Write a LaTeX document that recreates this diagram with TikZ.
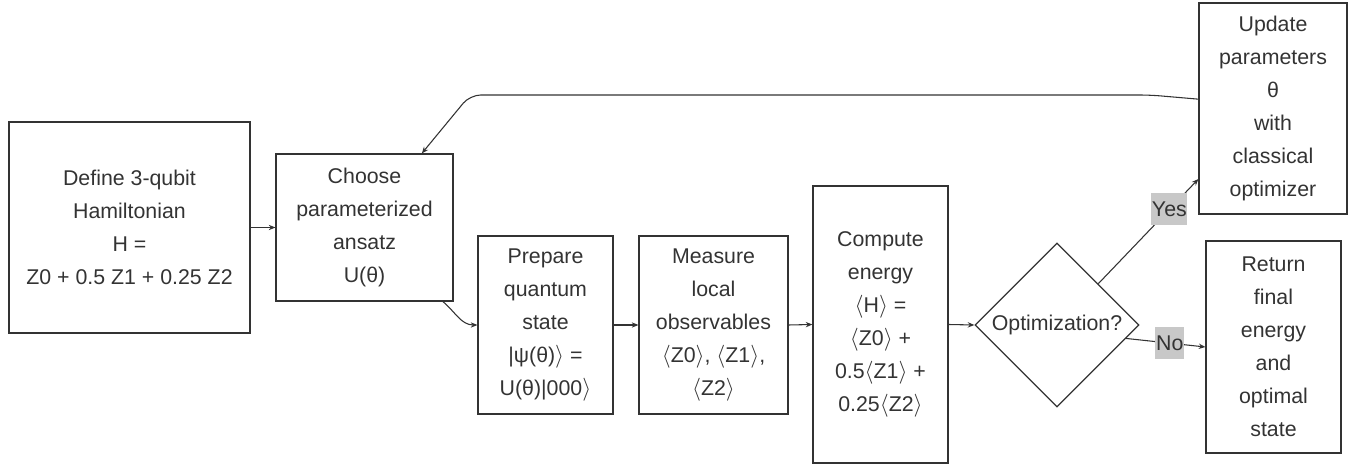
\documentclass[tikz,border=0pt]{standalone}
\usepackage{fontspec}
\setmainfont{Liberation Sans}
\usetikzlibrary{shapes.geometric,arrows.meta}
\newcommand\myl{\ensuremath{\langle}}
\newcommand\myr{\ensuremath{\rangle}}
\definecolor{ink}{HTML}{333333}
\definecolor{lab}{HTML}{C8C8C8}
\begin{document}
\begin{tikzpicture}[x=0.75pt,y=-0.75pt,
  box/.style={draw=ink,line width=0.9pt,text=ink,align=center,inner sep=0pt,
    font={\fontsize{16}{24.75}\selectfont}},
  dec/.style={diamond,aspect=1,draw=ink,line width=0.9pt,text=ink,inner sep=0pt,
    minimum width=123pt,minimum height=123pt,font={\fontsize{16}{24.75}\selectfont}},
  arr/.style={draw=ink,line width=0.8pt,-{Stealth[length=5pt,width=4pt]}},
  lbl/.style={fill=lab,text=ink,inner xsep=0.5pt,inner ysep=0pt,minimum height=24pt,
    font={\fontsize{16}{19}\selectfont}}]
\useasboundingbox (0,0) rectangle (1352,466);
\node[box,minimum width=180.75pt,minimum height=158.25pt] (A) at (129.5,227.5)
  {Define 3-qubit\\Hamiltonian\\H =\\Z0 + 0.5 Z1 + 0.25 Z2};
\node[box,minimum width=132.75pt,minimum height=110.25pt] (B) at (364.5,227.5)
  {Choose\\parameterized\\ansatz\\U(θ)};
\node[box,minimum width=101.25pt,minimum height=133.5pt] (C) at (545.5,325)
  {Prepare\\quantum\\state\\|ψ(θ)\myr{} =\\U(θ)|000\myr};
\node[box,minimum width=111.75pt,minimum height=133.5pt] (D) at (713.5,325)
  {Measure\\local\\observables\\\myl Z0\myr, \myl Z1\myr,\\\myl Z2\myr};
\node[box,minimum width=101.25pt,minimum height=207.75pt] (E) at (880.5,324.5)
  {Compute\\energy\\\myl H\myr{} =\\\myl Z0\myr{} +\\0.5\myl Z1\myr{} +\\0.25\myl Z2\myr};
\node[dec] (Q) at (1057,325) {Optimization?};
\node[box,minimum width=111pt,minimum height=158.25pt] (F) at (1273,108.5)
  {Update\\parameters\\θ\\with\\classical\\optimizer};
\node[box,minimum width=101.25pt,minimum height=159pt] (G) at (1273.5,347)
  {Return\\final\\energy\\and\\optimal\\state};
\coordinate (fb1) at (1150,95);
\coordinate (fb2) at (470,95);
\draw[arr] (A.east) -- (B.west);
\draw[arr] ([xshift=-8pt]B.south east) to[out=-40,in=180] (C.west);
\draw[arr] (C.east) -- (D.west);
\draw[arr] (D.east) -- (E.west);
\draw[arr] (E.east) -- (Q.west);
\draw[arr] (Q.north east) -- node[lbl,pos=0.71] {Yes} ([yshift=-52.9pt]F.west);
\draw[arr] (Q.-11) -- node[lbl,pos=0.55] {No} (G.west);
\draw[arr,rounded corners=8pt] ([yshift=7pt]F.west) -- (fb1) -- (fb2) -- ([xshift=43pt]B.north);
\end{tikzpicture}
\end{document}
